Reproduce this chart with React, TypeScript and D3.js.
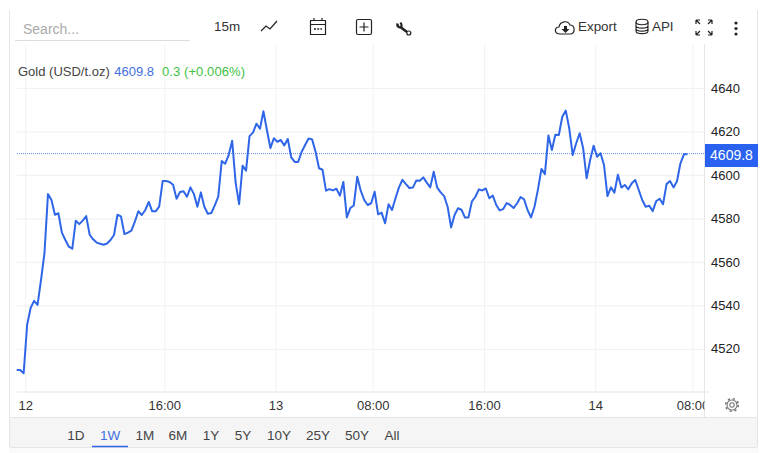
import React, { useEffect, useRef } from 'react';
import * as d3 from 'd3';

// 15 minute closes, thousands prefix kept in the numbers
const closes = [
  4510.5, 4510.5, 4509, 4531.2, 4539, 4542.3, 4540.4, 4551.9, 4564.4, 4591.4,
  4588.7, 4581.9, 4582.6, 4573.7, 4570.3, 4567.2, 4566.3, 4579.2, 4577.6, 4579.2,
  4581.3, 4572.7, 4570.6, 4569.1, 4568.6, 4568.1, 4568.7, 4570.3, 4572.6, 4581.9,
  4581.2, 4573, 4573.7, 4574.6, 4578.7, 4583.5, 4581.8, 4584.1, 4587.8, 4583.5,
  4583.5, 4585.6, 4597.4, 4597.4, 4597, 4595.7, 4589.3, 4592.4, 4592.7, 4590.2,
  4594.5, 4591.4, 4585.6, 4592.2, 4585.6, 4582.4, 4582.7, 4586.2, 4590.2, 4606.6,
  4605.4, 4609.4, 4616, 4596.7, 4586.8, 4604.5, 4602.2, 4618.1, 4619.7, 4623.8,
  4621.5, 4629.5, 4620.9, 4612.6, 4617.1, 4615.5, 4616.3, 4613.8, 4616.8, 4608.3,
  4606.2, 4606.2, 4610.9, 4614, 4617, 4616.6, 4610.9, 4603.3, 4602.6, 4593,
  4593.7, 4593.1, 4593.9, 4590.7, 4597, 4580.7, 4585, 4586.2, 4599.4, 4593,
  4588.7, 4586.4, 4587.2, 4592.5, 4582.1, 4582.9, 4578, 4586.7, 4584.1, 4589.5,
  4594.5, 4598, 4596, 4594.2, 4594.4, 4597.7, 4597.6, 4599.1, 4596.7, 4594.5,
  4601.7, 4594.4, 4592.2, 4590.5, 4585.6, 4576.1, 4581.8, 4584.9, 4584.2, 4580.6,
  4580.7, 4588.1, 4590.2, 4593.6, 4593.1, 4594, 4589.5, 4590.7, 4586.4, 4583.9,
  4584.5, 4587.3, 4586.4, 4585, 4587.2, 4590.1, 4589, 4584.1, 4580.7, 4585.6,
  4593.6, 4603, 4600.6, 4618.4, 4611.7, 4618.7, 4618.6, 4627, 4629.8, 4621.7,
  4609.4, 4614.8, 4619.4, 4612.5, 4598.7, 4607, 4613.7, 4608.6, 4610.2, 4604.8,
  4590.5, 4594.5, 4592.1, 4600.3, 4594.4, 4595.6, 4593.6, 4596.4, 4597.9, 4593.3,
  4588.7, 4585.6, 4586.1, 4583.6, 4588.1, 4589.3, 4586.8, 4596, 4597.4, 4594.5,
  4597.3, 4605.6, 4609.7, 4609.8,
];
const priceTicks = [4520, 4540, 4560, 4580, 4600, 4620, 4640];
const timeLabels = ['12', '16:00', '13', '08:00', '16:00', '14', '08:00'];
const timeTickIndex = [2.6, 42.6, 74.6, 102.6, 134.6, 166.6, 194.6];
const periods = ['1D', '1W', '1M', '6M', '1Y', '5Y', '10Y', '25Y', '50Y', 'All'];
const periodCenters = [76, 110, 145, 178, 211, 243, 279, 318, 357, 392];
const lastPrice = 4609.8;

const FONT = '"Liberation Sans", Arial, sans-serif';
const BLUE = '#2f66e8';
const GRID = '#f1f2f4';

export default function App() {
  const ref = useRef<SVGSVGElement | null>(null);

  useEffect(() => {
    const svg = d3.select(ref.current);
    svg.selectAll('*').remove();
    svg.attr('viewBox', '0 0 764 453').style('font-family', FONT);

    const x = d3.scaleLinear().domain([0, closes.length - 1]).range([16.7, 687.4]);
    const y = d3.scaleLinear().domain([4520, 4640]).range([349.3, 88.5]);
    const plotRight = 704.5, plotBottom = 392;

    // frame + bottom bar
    svg.append('rect').attr('x', 9).attr('y', 447).attr('width', 750).attr('height', 6).attr('fill', '#fafafa');
    svg.append('rect').attr('x', 9.5).attr('y', 417.5).attr('width', 748).attr('height', 30).attr('rx', 2)
      .attr('fill', '#f5f5f5').attr('stroke', '#e4e4e4');
    svg.append('line').attr('x1', 9.5).attr('x2', 9.5).attr('y1', 10).attr('y2', 418).attr('stroke', '#e6e6e6');
    svg.append('line').attr('x1', 757.5).attr('x2', 757.5).attr('y1', 10).attr('y2', 418).attr('stroke', '#e6e6e6');

    // grid
    svg.append('g').selectAll('line').data(priceTicks).join('line')
      .attr('x1', 17).attr('x2', plotRight)
      .attr('y1', d => y(d)).attr('y2', d => y(d))
      .attr('stroke', GRID).attr('stroke-width', 1.2);
    svg.append('g').selectAll('line').data(timeTickIndex).join('line')
      .attr('x1', d => x(d)).attr('x2', d => x(d))
      .attr('y1', 44).attr('y2', plotBottom)
      .attr('stroke', GRID);
    svg.append('line').attr('x1', 17).attr('x2', 709).attr('y1', plotBottom).attr('y2', plotBottom)
      .attr('stroke', '#eeeeee').attr('stroke-width', 1.5);
    svg.append('line').attr('x1', plotRight).attr('x2', plotRight).attr('y1', 44).attr('y2', 417)
      .attr('stroke', '#e6e6e6');

    // price line
    svg.append('line').attr('x1', 17).attr('x2', plotRight)
      .attr('y1', y(lastPrice) - 0.5).attr('y2', y(lastPrice) - 0.5)
      .attr('stroke', '#5f8cec').attr('stroke-width', 1).attr('stroke-dasharray', '1 1');
    const line = d3.line<number>().x((_, i) => x(i)).y(d => y(d));
    svg.append('path').datum(closes).attr('d', line)
      .attr('fill', 'none').attr('stroke', BLUE).attr('stroke-width', 2).attr('stroke-linejoin', 'round');

    // y axis
    const yAxis = svg.append('g').attr('transform', 'translate(711,-0.5)')
      .call(d3.axisRight(y).tickValues(priceTicks).tickSize(0).tickPadding(0).tickFormat(d3.format('d')));
    yAxis.select('.domain').remove();
    yAxis.selectAll('text').attr('fill', '#222').attr('font-size', 13).attr('font-family', FONT);

    // x axis labels, last one gets cut by the price scale
    svg.append('clipPath').attr('id', 'xclip').append('rect')
      .attr('x', 0).attr('y', 392).attr('width', plotRight).attr('height', 26);
    svg.append('g').attr('clip-path', 'url(#xclip)').selectAll('text').data(timeLabels).join('text')
      .attr('x', (_, i) => x(timeTickIndex[i])).attr('y', 410)
      .attr('text-anchor', 'middle').attr('font-size', 13).attr('fill', '#333')
      .text(d => d);

    // legend
    const legend = svg.append('text').attr('x', 18).attr('y', 76).attr('font-size', 13);
    legend.append('tspan').attr('fill', '#444').text('Gold (USD/t.oz)');
    legend.append('tspan').attr('dx', 4.5).attr('fill', '#3f6fe0').text(String(lastPrice));
    legend.append('tspan').attr('dx', 8).attr('fill', '#3fc13f').attr('textLength', 83).text('0.3 (+0.006%)');

    // last price tag
    svg.append('rect').attr('x', 705).attr('y', 144).attr('width', 53).attr('height', 23).attr('fill', '#2962f0');
    svg.append('text').attr('x', 731.5).attr('y', 160).attr('text-anchor', 'middle')
      .attr('font-size', 14).attr('fill', '#fff').text(String(lastPrice));

    // period buttons
    svg.append('g').selectAll('text').data(periods).join('text')
      .attr('x', (_, i) => periodCenters[i]).attr('y', 440)
      .attr('text-anchor', 'middle').attr('font-size', 13.5)
      .attr('fill', d => (d === '1W' ? '#3f6fe0' : '#444'))
      .text(d => d);
    svg.append('line').attr('x1', 92).attr('x2', 128).attr('y1', 446.5).attr('y2', 446.5)
      .attr('stroke', BLUE).attr('stroke-width', 1.5);

    // toolbar
    svg.append('text').attr('x', 23).attr('y', 34).attr('font-size', 14).attr('fill', '#aaa').text('Search...');
    svg.append('line').attr('x1', 15).attr('x2', 190).attr('y1', 40.5).attr('y2', 40.5).attr('stroke', '#dddddd');
    const tool = (tx: number, t: string) =>
      svg.append('text').attr('x', tx).attr('y', 31).attr('font-size', 13.4).attr('fill', '#333').text(t);
    tool(214, '15m');
    tool(578, 'Export');
    tool(652, 'API');

    const icon = (d: string, w = 1.2) =>
      svg.append('path').attr('d', d).attr('fill', 'none').attr('stroke', '#222').attr('stroke-width', w);
    icon('M261 31 L266 26 L270 29 L277 21');
    icon('M310.5 20.5 H325.5 V34.5 H310.5 Z M310.5 24.5 H325.5 M314 18 V20 M322 18 V20');
    icon('M314 29 H322', 1.4).attr('stroke-dasharray', '2 1.2');
    svg.append('rect').attr('x', 356.5).attr('y', 19.5).attr('width', 15).attr('height', 15).attr('rx', 1.5)
      .attr('fill', 'none').attr('stroke', '#222').attr('stroke-width', 1.2);
    icon('M364 22.5 V31.5 M359.5 27 H368.5');
    // wrench
    icon('M397.5 23.5 Q397 27.5 401 27.5 L407 32', 2.6);
    icon('M401 27.5 Q402.5 25.5 400.5 22.5', 2);
    svg.append('circle').attr('cx', 408.8).attr('cy', 33).attr('r', 2).attr('fill', '#fff')
      .attr('stroke', '#222').attr('stroke-width', 1.2);
    icon('M560 34 C554 34 554 27 559 27 C560 21 568 20 570 25 C575 25 576 34 570 34 Z');
    svg.append('path').attr('d', 'M564 26 H567 V29 H569.5 L565.5 33 L561.5 29 H564 Z').attr('fill', '#222');
    svg.append('ellipse').attr('cx', 642).attr('cy', 22).attr('rx', 6).attr('ry', 2.7)
      .attr('fill', 'none').attr('stroke', '#222').attr('stroke-width', 1.1);
    icon('M636 22 V31 C636 34.5 648 34.5 648 31 V22 M636 25.5 C636 29 648 29 648 25.5 M636 28.5 C636 32 648 32 648 28.5', 1.1);
    icon('M696 20 H700 M696 20 V24 M696 20 L700 24 M712 20 H708 M712 20 V24 M712 20 L708 24 M696 35 H700 M696 35 V31 M696 35 L700 31 M712 35 H708 M712 35 V31 M712 35 L708 31', 1.2);
    svg.append('g').selectAll('circle').data([23, 28.5, 34]).join('circle')
      .attr('cx', 736).attr('cy', d => d).attr('r', 1.6).attr('fill', '#222');

    // gear
    svg.append('circle').attr('cx', 732).attr('cy', 405).attr('r', 2.2).attr('fill', 'none')
      .attr('stroke', '#777').attr('stroke-width', 1.1);
    svg.append('circle').attr('cx', 732).attr('cy', 405).attr('r', 5).attr('fill', 'none')
      .attr('stroke', '#777').attr('stroke-width', 1.1);
    svg.append('circle').attr('cx', 732).attr('cy', 405).attr('r', 6.3).attr('fill', 'none')
      .attr('stroke', '#777').attr('stroke-width', 1.6).attr('stroke-dasharray', '2.2 2.75');
  }, []);

  return (
    <svg ref={ref} width={764} height={453}
      style={{ position: 'absolute', left: 0, top: 0, display: 'block', background: '#fff' }} />
  );
}
